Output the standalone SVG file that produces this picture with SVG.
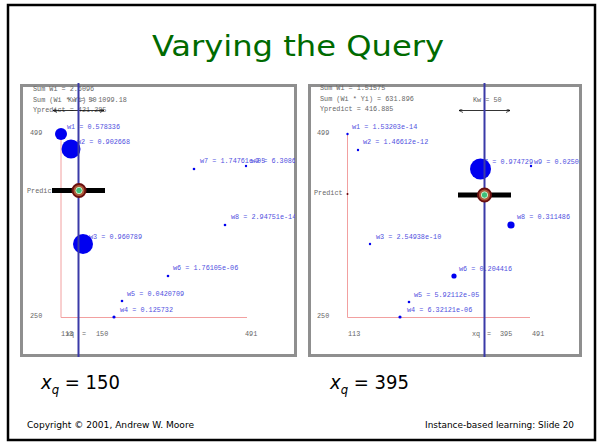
<svg xmlns="http://www.w3.org/2000/svg" width="602" height="446" viewBox="0 0 602 446">
<style>
.frame{fill:#fff;stroke:#8f8f8f;stroke-width:3}
.info{font-family:"Liberation Mono",monospace;font-size:6.8px;fill:#666}
.lbl{font-family:"Liberation Mono",monospace;font-size:6.8px;fill:#5050e0}
.axis{stroke:#f2a0a0;stroke-width:1;fill:none}
.q{stroke:#3a3aa8;stroke-width:2}
.pt{fill:#0000f0}
.bar{stroke:#000;stroke-width:5}
.cap{font-family:"DejaVu Sans Condensed","DejaVu Sans",sans-serif;font-size:20px;fill:#000}
.foot{font-family:"DejaVu Sans Condensed","DejaVu Sans",sans-serif;font-size:9px;fill:#000}
</style>
<defs>
<clipPath id="cl"><rect x="21" y="85" width="274" height="271"/></clipPath>
<clipPath id="cr"><rect x="310" y="85" width="270" height="271"/></clipPath>
<marker id="ah" viewBox="0 0 6 6" refX="6" refY="3" markerWidth="5" markerHeight="5" orient="auto-start-reverse"><path d="M0,0 L6,3 L0,6" fill="none" stroke="#000" stroke-width="1"/></marker>
<g id="pred"><circle r="6.5" fill="#b05a3a" stroke="#6b1010" stroke-width="2"/><circle r="3.2" fill="#3cc07a" stroke="#c8f0c8" stroke-width="1"/></g>
</defs>
<rect x="8" y="5" width="587" height="435" fill="#fff" stroke="#000" stroke-width="2.5"/>
<g id="title"><text x="298" y="56" text-anchor="middle" font-family="DejaVu Sans Condensed, DejaVu Sans, sans-serif" font-size="29" fill="#006a00" textLength="292" lengthAdjust="spacingAndGlyphs">Varying the Query</text></g>

<g id="panel-left">
<rect class="frame" x="21.5" y="85.5" width="274" height="270"/>
<g clip-path="url(#cl)">
<text class="info" x="33" y="91">Sum Wi = 2.6096</text>
<text class="info" x="33" y="102">Sum (Wi * Yi) = 1099.18</text>
<text class="info" x="33" y="112">Ypredict = 421.285</text>
<text class="info" x="68" y="102">Kw = 50</text>
<line x1="53" y1="110.5" x2="104" y2="110.5" stroke="#000" stroke-width="0.8" marker-start="url(#ah)" marker-end="url(#ah)"/>
<text class="info" x="30" y="135">499</text>
<text class="info" x="30" y="318">250</text>
<text class="info" x="27" y="193">Predict</text>
<path class="axis" d="M61,134 V317.5 H247"/>
<text class="info" x="61" y="336">113</text>
<text class="info" x="66" y="336">xq</text>
<text class="info" x="82" y="336">=</text>
<text class="info" x="96" y="336">150</text>
<text class="info" x="245" y="336">491</text>
<text class="lbl" x="67" y="129">w1 = 0.578336</text>
<text class="lbl" x="77" y="144">w2 = 0.902668</text>
<text class="lbl" x="89" y="239">w3 = 0.960789</text>
<text class="lbl" x="200" y="163">w7 = 1.74761e-05</text>
<text class="lbl" x="251" y="163">w9 = 6.30864e-19</text>
<text class="lbl" x="231" y="219">w8 = 2.94751e-14</text>
<text class="lbl" x="173" y="270">w6 = 1.76105e-06</text>
<text class="lbl" x="127" y="296">w5 = 0.0420709</text>
<text class="lbl" x="120" y="312">w4 = 0.125732</text>
<circle class="pt" cx="61" cy="134" r="6"/>
<circle class="pt" cx="71" cy="149" r="9.5"/>
<circle class="pt" cx="83" cy="244" r="10"/>
<circle class="pt" cx="194" cy="169" r="1.3"/>
<circle class="pt" cx="246" cy="166" r="1.2"/>
<circle class="pt" cx="225" cy="225" r="1.3"/>
<circle class="pt" cx="168" cy="276" r="1.3"/>
<circle class="pt" cx="122" cy="301" r="1.3"/>
<circle class="pt" cx="114" cy="317" r="1.6"/>
<line class="bar" x1="52" y1="190.5" x2="105" y2="190.5"/>
</g>
<line class="q" x1="78.5" y1="83" x2="78.5" y2="357"/>
<use href="#pred" x="79" y="190.5"/>
</g>

<g id="panel-right">
<rect class="frame" x="309.5" y="85.5" width="271" height="270"/>
<g clip-path="url(#cr)">
<text class="info" x="320" y="90">Sum Wi = 1.51575</text>
<text class="info" x="320" y="101">Sum (Wi * Yi) = 631.896</text>
<text class="info" x="320" y="111">Ypredict = 416.885</text>
<text class="info" x="473" y="102">Kw = 50</text>
<line x1="459" y1="110.5" x2="510" y2="110.5" stroke="#000" stroke-width="0.8" marker-start="url(#ah)" marker-end="url(#ah)"/>
<text class="info" x="317" y="135">499</text>
<text class="info" x="317" y="318">250</text>
<text class="info" x="314" y="195">Predict</text>
<path class="axis" d="M347.5,134 V317.5 H530"/>
<circle cx="347.5" cy="194" r="1" fill="#600"/>
<text class="info" x="348" y="336">113</text>
<text class="info" x="472" y="336">xq</text>
<text class="info" x="487" y="336">=</text>
<text class="info" x="500" y="336">395</text>
<text class="info" x="532" y="336">491</text>
<text class="lbl" x="352" y="129">w1 = 1.53203e-14</text>
<text class="lbl" x="363" y="144">w2 = 1.46612e-12</text>
<text class="lbl" x="480" y="164">w7 = 0.974729</text>
<text class="lbl" x="534" y="164">w9 = 0.0250148</text>
<text class="lbl" x="517" y="219">w8 = 0.311486</text>
<text class="lbl" x="376" y="239">w3 = 2.54938e-10</text>
<text class="lbl" x="459" y="271">w6 = 0.204416</text>
<text class="lbl" x="414" y="297">w5 = 5.92112e-05</text>
<text class="lbl" x="407" y="312">w4 = 6.32121e-06</text>
<circle class="pt" cx="347.5" cy="134" r="1.2"/>
<circle class="pt" cx="358" cy="150" r="1.2"/>
<circle class="pt" cx="480.5" cy="169" r="10.5"/>
<circle class="pt" cx="531" cy="166" r="1.2"/>
<circle class="pt" cx="511" cy="225" r="3.6"/>
<circle class="pt" cx="370" cy="244" r="1.2"/>
<circle class="pt" cx="454" cy="276" r="2.6"/>
<circle class="pt" cx="409" cy="302" r="1.3"/>
<circle class="pt" cx="400" cy="317" r="1.6"/>
<line class="bar" x1="458" y1="195" x2="511" y2="195"/>
</g>
<line class="q" x1="484.5" y1="83" x2="484.5" y2="357"/>
<use href="#pred" x="484.5" y="195"/>
</g>

<g id="caption-left"><text class="cap" x="41" y="389"><tspan font-style="italic">x</tspan><tspan font-style="italic" font-size="13" dy="5">q</tspan><tspan dy="-5"> = 150</tspan></text></g>
<g id="caption-right"><text class="cap" x="330" y="389"><tspan font-style="italic">x</tspan><tspan font-style="italic" font-size="13" dy="5">q</tspan><tspan dy="-5"> = 395</tspan></text></g>
<g id="footer">
<text class="foot" x="27" y="428" textLength="167" lengthAdjust="spacingAndGlyphs">Copyright © 2001, Andrew W. Moore</text>
<text class="foot" x="574" y="428" text-anchor="end" textLength="149" lengthAdjust="spacingAndGlyphs">Instance-based learning: Slide 20</text>
</g>
</svg>
